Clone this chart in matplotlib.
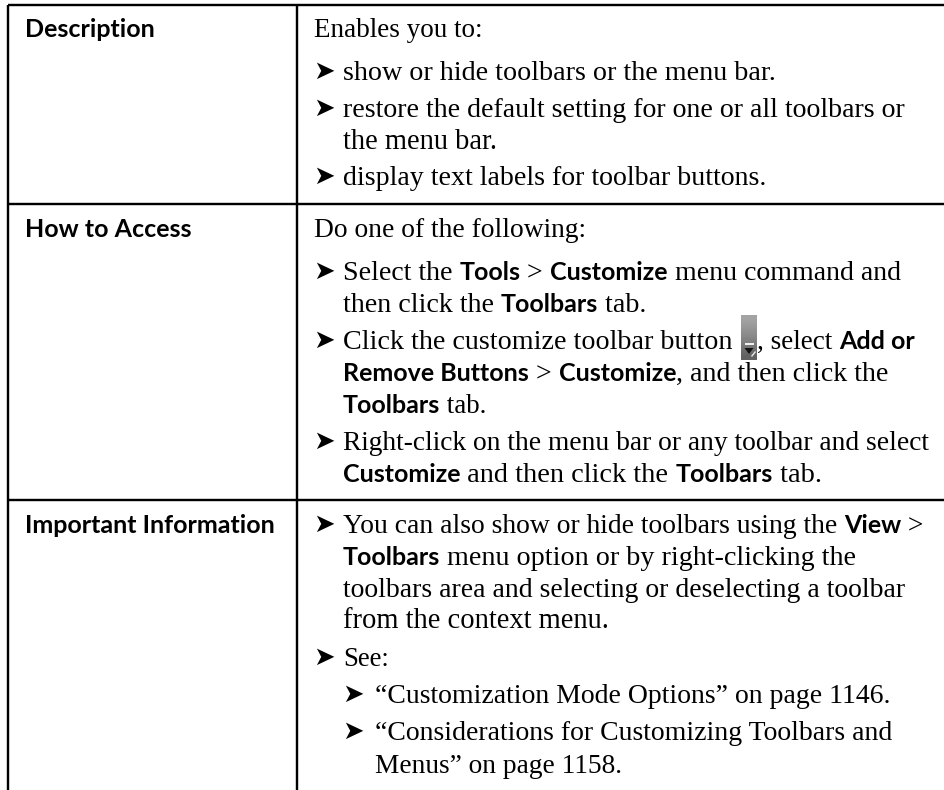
import numpy as np
import matplotlib
matplotlib.use("Agg")
import matplotlib.pyplot as plt
from matplotlib.patches import Polygon, Rectangle

# ---- content ----
ROW_HEADINGS = ["Description", "How to Access", "Important Information"]
BULLET = "\u27a4"
ICON = "@ICON@"
BODY_LINES = [
    ("plain", "Enables you to:"),
    ("bullet", "show or hide toolbars or the menu bar."),
    ("bullet", "restore the default setting for one or all toolbars or"),
    ("cont", "the menu bar."),
    ("bullet", "display text labels for toolbar buttons."),
    ("plain", "Do one of the following:"),
    ("bullet", "Select the **Tools** > **Customize** menu command and"),
    ("cont", "then click the **Toolbars** tab."),
    ("bullet", "Click the customize toolbar button " + ICON + ", select **Add or**"),
    ("cont", "**Remove Buttons** > **Customize**, and then click the"),
    ("cont", "**Toolbars** tab."),
    ("bullet", "Right-click on the menu bar or any toolbar and select"),
    ("cont", "**Customize** and then click the **Toolbars** tab."),
    ("bullet", "You can also show or hide toolbars using the **View** >"),
    ("cont", "**Toolbars** menu option or by right-clicking the"),
    ("cont", "toolbars area and selecting or deselecting a toolbar"),
    ("cont", "from the context menu."),
    ("bullet", "See:"),
    ("sub", "\u201cCustomization Mode Options\u201d on page 1146."),
    ("sub", "\u201cConsiderations for Customizing Toolbars and"),
    ("subcont", "Menus\u201d on page 1158."),
]

# ---- layout (pixels) ----
W, H = 945, 790
BASELINES = [37, 80, 117, 149, 185, 237, 280, 312, 349, 381, 413, 450, 482,
             533, 565, 597, 628, 666, 703, 740, 773]
LINE_RIGHT = [483, 777, 907, 498, 767, 587, 902, 647, 915, 889, 487, 930, 822,
              925, 857, 906, 610, 385, 893, 892, 623]
HEAD_BASE = [37, 237, 533]
RULES_Y = [5, 204, 500]
VERT_X = [8, 297]
TEXT_X = {"plain": 314, "bullet": 343, "cont": 343, "sub": 375, "subcont": 375}
BULLET_X = {"bullet": 313, "sub": 342}
SERIF = "Liberation Serif"
BOLD = "Lato"
PX = 72 / 100
BODY_SIZE = 28 * PX
BOLD_SIZE = 25 * PX
HEAD_SIZE = 25 * PX
BULLET_SIZE = 25.7 * PX
ICON_X = 741
ICON_W = 16
SCALE_MIN, SCALE_MAX = 0.96, 1.04

fig = plt.figure(figsize=(W / 100, H / 100), dpi=100, facecolor="white")
ax = fig.add_axes([0, 0, 1, 1])
ax.set_xlim(0, W)
ax.set_ylim(H, 0)
ax.axis("off")
renderer = fig.canvas.get_renderer()


def advance(s, **kw):
    a = ax.text(0, 0, s + "|", **kw)
    b = ax.text(0, 0, "|", **kw)
    w = a.get_window_extent(renderer).width - b.get_window_extent(renderer).width
    a.remove()
    b.remove()
    return w


def draw_icon(x):
    grad = np.array([[0.64], [0.6], [0.55], [0.5], [0.44], [0.38]])
    grad = np.repeat(grad, 4, axis=1)
    ax.imshow(grad, cmap="gray", vmin=0, vmax=1, aspect="auto",
              extent=(x, x + ICON_W, 360, 315), zorder=2, interpolation="bilinear")
    ax.add_patch(Rectangle((x + 3.5, 343), 9, 1.5, color="#f0f0f0", lw=0, zorder=3))
    ax.add_patch(Polygon([(x + 3.5, 348), (x + 12.5, 348), (x + 8, 354)],
                         closed=True, color="#111111", lw=0, zorder=3))
    ax.add_patch(Polygon([(x + 10, 356), (x + 14, 351), (x + 15, 352), (x + 11, 357)],
                         closed=True, color="#e8e8e8", lw=0, zorder=3))
    ax.set_xlim(0, W)
    ax.set_ylim(H, 0)


def draw_runs(x, y, line, right):
    if ICON in line:
        left, rest = line.split(ICON)
        draw_runs(x, y, left, ICON_X)
        draw_icon(ICON_X)
        draw_runs(ICON_X + ICON_W, y, rest, right)
        return
    parts = line.split("**")
    fixed = 0.0
    serif = 0.0
    for i, part in enumerate(parts):
        if not part:
            continue
        if i % 2:
            fixed += advance(part, family=BOLD, weight="bold", fontsize=BOLD_SIZE)
        else:
            serif += advance(part, family=SERIF, fontsize=BODY_SIZE)
    scale = (right - x - fixed) / serif if serif else 1.0
    scale = min(max(scale, SCALE_MIN), SCALE_MAX)
    for i, part in enumerate(parts):
        if not part:
            continue
        if i % 2:
            kw = dict(family=BOLD, weight="bold", fontsize=BOLD_SIZE)
        else:
            kw = dict(family=SERIF, fontsize=BODY_SIZE * scale)
        ax.text(x, y, part, va="baseline", ha="left", color="black", **kw)
        x += advance(part, **kw)


for yy in RULES_Y:
    ax.plot([VERT_X[0], W], [yy, yy], color="black", lw=2.4 * PX,
            solid_capstyle="butt")
for xx in VERT_X:
    ax.plot([xx, xx], [RULES_Y[0], H], color="black", lw=2.4 * PX,
            solid_capstyle="butt")

for head, yy in zip(ROW_HEADINGS, HEAD_BASE):
    ax.text(25, yy, head, family=BOLD, weight="bold", fontsize=HEAD_SIZE,
            va="baseline", ha="left", color="black")

for (kind, text), yy, rr in zip(BODY_LINES, BASELINES, LINE_RIGHT):
    if kind in BULLET_X:
        ax.text(BULLET_X[kind], yy - 1, BULLET, family="DejaVu Sans",
                fontsize=BULLET_SIZE, va="baseline", ha="left", color="black")
    draw_runs(TEXT_X[kind], yy, text, rr)

fig.savefig("out.png", dpi=100, facecolor="white")
